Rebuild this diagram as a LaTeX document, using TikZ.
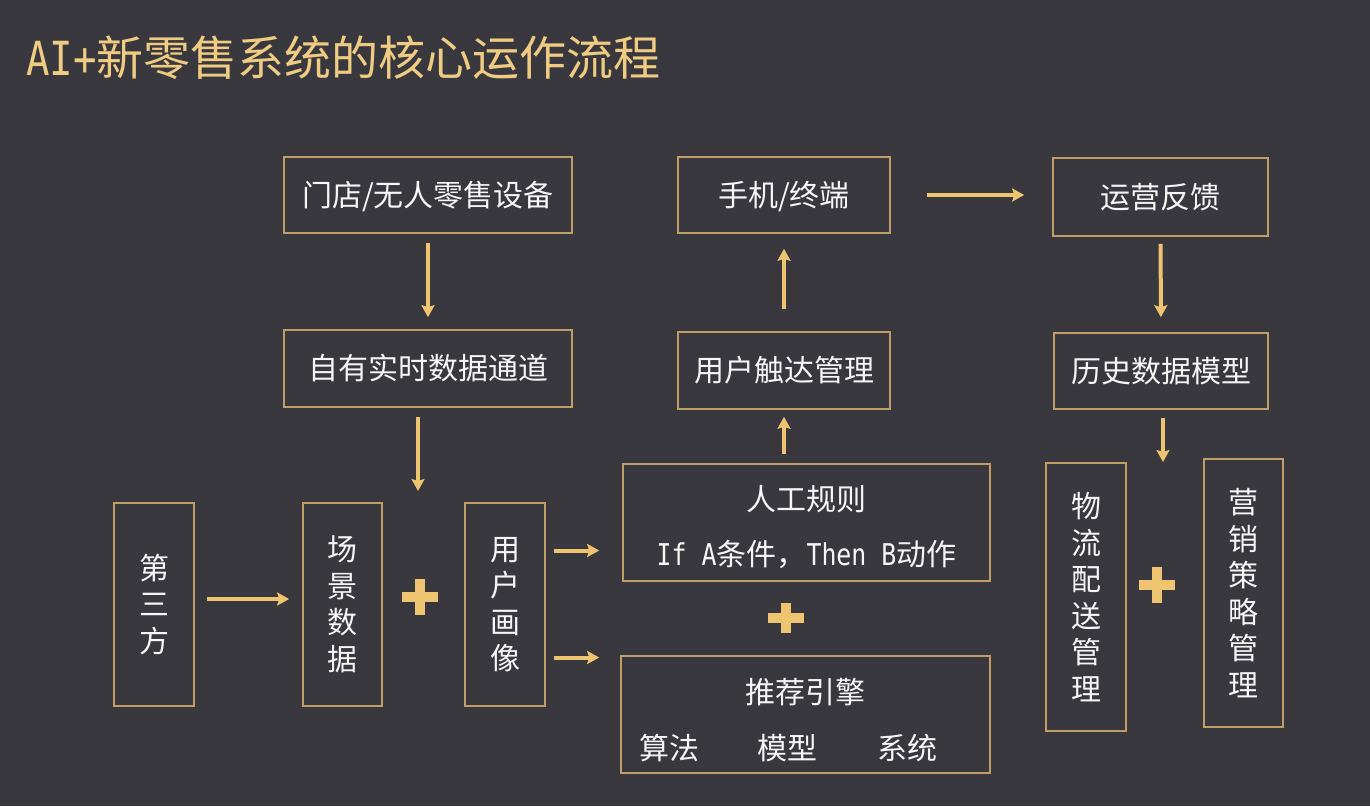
\documentclass[tikz,border=0pt]{standalone}
\usepackage{fontspec}
\setmainfont{Noto Sans CJK SC}
\newfontfamily\halfmono[FakeStretch=0.83]{DejaVu Sans Mono}
\usetikzlibrary{positioning, arrows.meta, calc}
\definecolor{slidebg}{RGB}{56,56,62}
\definecolor{goldline}{RGB}{238,196,112}
\definecolor{titlegold}{RGB}{240,204,130}
\definecolor{boxedge}{RGB}{192,158,102}
\definecolor{labeltext}{RGB}{246,246,246}
% lower a line of text without changing its box
\newcommand{\sinkline}[2]{\raisebox{-#1}[\height][\depth]{#2}}

\tikzset{
  card/.style={draw=boxedge, line width=1.6pt, text=labeltext, align=center,
               font=\fontsize{30}{36.5}\selectfont, inner sep=0pt},
  flow/.style={draw=goldline, line width=4pt,
               -{Stealth[length=12pt, width=13pt, inset=2pt]},
               shorten <=9pt, shorten >=12pt},
  plusbar/.style={draw=goldline, line width=10pt},
}

\begin{document}
\begin{tikzpicture}[x=1pt, y=-1pt]
  \fill[slidebg] (0,0) rectangle (1370,806);
  \useasboundingbox (0,0) rectangle (1370,806);

  % title
  \node[anchor=west, text=titlegold, inner sep=0pt,
        font=\fontsize{47}{47}\selectfont] (title) at (26,58)
        {{\halfmono AI+}新零售系统的核心运作流程};

  % top rows
  \node[card, minimum width=288pt, minimum height=76pt] (store) at (428,195) {\sinkline{2pt}{门店/无人零售设备}};
  \node[card, minimum width=288pt, minimum height=77pt] (chan) at (428,368.5) {自有实时数据通道};
  \node[card, minimum width=212pt, minimum height=76pt] (phone) at (784,195) {\sinkline{2pt}{手机/终端}};
  \node[card, minimum width=212pt, minimum height=77pt] (touch) at (784,370.5) {用户触达管理};
  \node[card, minimum width=215pt, minimum height=78pt] (ops) at (1160.5,197) {运营反馈};
  \node[card, minimum width=214pt, minimum height=76pt] (hist) at (1161,371) {历史数据模型};

  % vertical boxes
  \node[card, minimum width=80pt, minimum height=203pt] (third) at (154,604.5) {第\\三\\方};
  \node[card, minimum width=79pt, minimum height=203pt] (scene) at (342.5,604.5) {场\\景\\数\\据};
  \node[card, minimum width=80pt, minimum height=203pt] (persona) at (505,604.5) {用\\户\\画\\像};
  \node[card, minimum width=80pt, minimum height=268pt] (logist) at (1086,597) {物\\流\\配\\送\\管\\理};
  \node[card, minimum width=79pt, minimum height=268pt] (market) at (1243.5,593) {营\\销\\策\\略\\管\\理};

  % rule and engine
  \node[card, minimum width=367pt, minimum height=117pt] (rule) at (806.5,522.5)
       {\sinkline{5pt}{人工规则}\\[18.5pt]\sinkline{5pt}{{\halfmono If A}条件，{\halfmono Then B}动作}};
  \node[card, minimum width=369pt, minimum height=117pt] (rec) at (805.5,714.5)
       {\sinkline{5.5pt}{推荐引擎}\\[19.5pt]\hspace*{-34pt}\sinkline{5.5pt}{算法\hspace{58pt}模型\hspace{60pt}系统}};

  % merge points
  \coordinate (mergeL) at (418,503);
  \coordinate (mergeR) at (1163,463);

  % plus signs
  \foreach \px/\py/\ph in {420/597/18, 786/618/15, 1157/585/18} {
    \draw[plusbar] (\px-18,\py) -- (\px+18,\py);
    \draw[plusbar] (\px,\py-\ph) -- (\px,\py+\ph);
  }

  % arrows
  \draw[flow] (store) -- (chan);
  \draw[flow] (chan.south -| mergeL) -- (mergeL);
  \draw[flow, shorten <=12pt, shorten >=13pt] ([yshift=5.5pt]third.east) -- ([yshift=5.5pt]third.east -| scene.west);
  \draw[flow, shorten <=8pt, shorten >=23pt] ([yshift=54pt]persona.east) -- ([yshift=54pt]persona.east -| rule.west);
  \draw[flow, shorten <=8pt, shorten >=21pt] ([yshift=-53pt]persona.east) -- ([yshift=-53pt]persona.east -| rec.west);
  \draw[flow, shorten <=9pt, shorten >=7pt] (rule.north -| touch) -- (touch);
  \draw[flow, shorten <=22pt, shorten >=15pt] (touch) -- (phone);
  \draw[flow, shorten <=36pt, shorten >=28pt] (phone.east) -- (phone.east -| ops.west);
  \draw[flow, shorten <=7pt, shorten >=15pt] (ops) -- (hist);
  \draw[flow, shorten <=8pt, shorten >=1pt] (hist.south -| mergeR) -- (mergeR);
\end{tikzpicture}
\end{document}
